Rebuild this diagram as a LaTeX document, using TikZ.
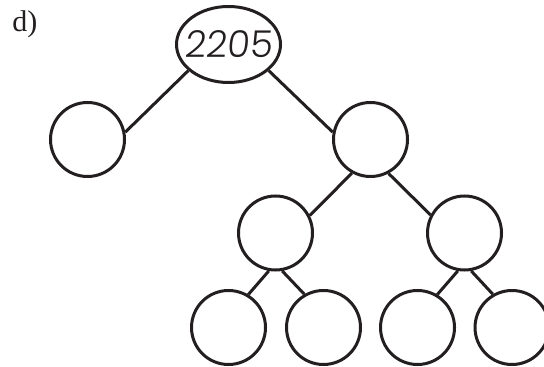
\documentclass[tikz,border=0pt]{standalone}
\usepackage{fontspec}
\usetikzlibrary{shapes.geometric}
\newfontfamily\digitfont[FakeSlant=0.1]{Poppins Light}
\newfontfamily\labfont{Liberation Serif}
\definecolor{ink}{HTML}{231F20}
\begin{document}
\begin{tikzpicture}[x=0.5pt,y=-0.5pt,
  blank/.style={circle,draw=ink,line width=1.5pt,minimum size=37pt,inner sep=0pt},
  topnode/.style={ellipse,draw=ink,line width=1.5pt,minimum width=52pt,minimum height=38pt,inner sep=0pt},
  digits/.style={font=\digitfont\fontsize{18.5}{18.5}\selectfont,text=ink,inner sep=0pt},
  edge/.style={draw=ink,line width=1.5pt}]
\clip (0,0) rectangle (544,367);
\useasboundingbox (0,0) rectangle (544,367);
\node[anchor=base west,font=\labfont\fontsize{15}{15}\selectfont,text=ink,inner sep=0pt] (lab) at (12,32) {d)};
\node[topnode,label={[digits]center:2205}] (top) at (228.5,44.5) {};
\node[blank] (L) at (87.5,139.5) {};
\node[blank] (R) at (370.5,139.5) {};
\node[blank] (RL) at (275.5,233) {};
\node[blank] (RR) at (464.5,233) {};
\node[blank] (A) at (228.5,327.5) {};
\node[blank] (B) at (323.5,327.5) {};
\node[blank] (C) at (417.5,327.5) {};
\node[blank] (D) at (512,327.5) {};
\draw[edge] (top.213) -- (L.11);
\draw[edge] (top.327) -- (R.169);
\draw[edge] (R.241) -- (RL.27.5);
\draw[edge] (R.298) -- (RR.152.5);
\draw[edge] (RL.260) -- (A.59);
\draw[edge] (RL.280) -- (B.120);
\draw[edge] (RR.260) -- (C.59);
\draw[edge] (RR.280) -- (D.120);
\end{tikzpicture}
\end{document}
